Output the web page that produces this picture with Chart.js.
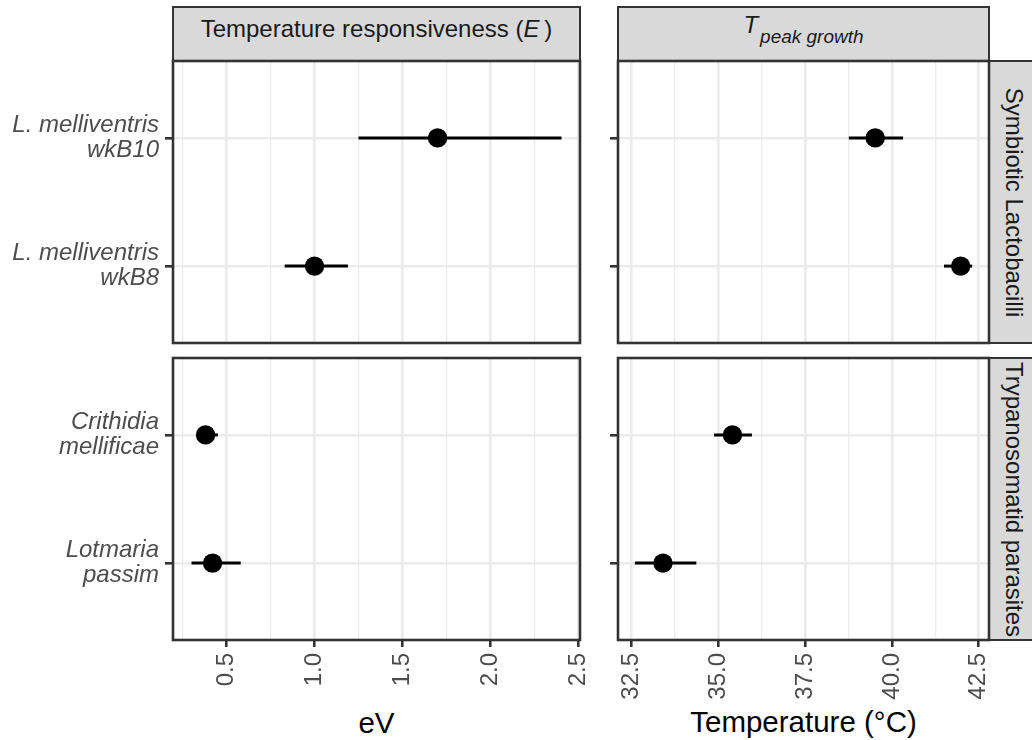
<!DOCTYPE html>
<html>
<head>
<meta charset="utf-8">
<script src="https://cdn.jsdelivr.net/npm/chart.js@4.4.1/dist/chart.umd.min.js"></script>
<style>
body { margin: 0; background: #fff; }
#fig { position: relative; width: 1032px; height: 740px; overflow: hidden; background: #fff;
       font-family: "Liberation Sans", Arial, sans-serif; }
#fig canvas { position: absolute; left: 0; top: 0; }
.strip { position: absolute; background: #D9D9D9; border: 2.6px solid #333; box-sizing: border-box; }
.txt { position: absolute; white-space: nowrap; text-align: center; }
.strip-txt { font-size: 24px; line-height: 27px; color: #1A1A1A; }
.axis-title { font-size: 29.5px; line-height: 33px; color: #000; }
</style>
</head>
<body>
<div id="fig">
  <!-- column strips -->
  <div class="strip" style="left:171.7px;top:5.7px;width:409.6px;height:56.6px"></div>
  <div class="strip" style="left:616.7px;top:5.7px;width:373.6px;height:56.6px"></div>
  <!-- row strips -->
  <div class="strip" style="left:987.7px;top:59.7px;width:56px;height:284.6px"></div>
  <div class="strip" style="left:987.7px;top:356.7px;width:56px;height:284.6px"></div>

  <div class="txt strip-txt" style="left:171.7px;top:15px;width:409.6px">Temperature responsiveness (<i>E</i>&thinsp;)</div>
  <div class="txt strip-txt" style="left:616.7px;top:11px;width:373.6px"><i>T</i><span style="position:relative;top:10px;font-size:19px;margin-left:2px"><i>peak growth</i></span></div>
  <div class="txt strip-txt" id="rowStrip0" style="left:864px;top:188.5px;width:300px;transform:rotate(90deg)"></div>
  <div class="txt strip-txt" id="rowStrip1" style="left:864px;top:485.5px;width:300px;transform:rotate(90deg)"></div>

  <div class="txt axis-title" style="left:173px;top:706px;width:407px">eV</div>
  <div class="txt axis-title" style="left:618px;top:705px;width:371px">Temperature (°C)</div>

  <canvas id="p00" width="1032" height="740"></canvas>
  <canvas id="p01" width="1032" height="740"></canvas>
  <canvas id="p10" width="1032" height="740"></canvas>
  <canvas id="p11" width="1032" height="740"></canvas>
</div>

<script>
// facet rows and strains (top to bottom)
var rowGroups = ['Symbiotic Lactobacilli', 'Trypanosomatid parasites'];
var strainLabels = [['L. melliventris', 'wkB10'], ['L. melliventris', 'wkB8'], ['Crithidia', 'mellificae'], ['Lotmaria', 'passim']];
var strainRow = [0, 0, 1, 1];

// temperature responsiveness E (eV) with interval
var eEstimate = [1.70, 1.00, 0.38, 0.42];
var eLower = [1.25, 0.83, 0.34, 0.30];
var eUpper = [2.405, 1.19, 0.45, 0.58];

// T peak growth (degrees C) with interval
var tpkEstimate = [39.52, 41.98, 35.41, 33.41];
var tpkLower = [38.76, 41.50, 34.88, 32.60];
var tpkUpper = [40.32, 42.31, 35.97, 34.37];

// axis breaks
var eBreaks = [0.5, 1.0, 1.5, 2.0, 2.5];
var tpkBreaks = [32.5, 35.0, 37.5, 40.0, 42.5];

var W = 1032, H = 740;
var panelX = [[173, 580], [618, 989]];
var panelY = [[61, 343], [358, 640]];
var FONT = '"Liberation Sans", Arial, sans-serif';

document.getElementById('rowStrip0').textContent = rowGroups[0];
document.getElementById('rowStrip1').textContent = rowGroups[1];

// ggplot-like 5% expansion of the data range
function expandRange(lo, hi) {
  var mn = Math.min.apply(null, lo), mx = Math.max.apply(null, hi);
  var d = (mx - mn) * 0.05;
  return [mn - d, mx + d];
}

function buildTicks(breaks, lim) {
  var step = breaks[1] - breaks[0];
  var ticks = breaks.map(function (b) { return {value: b, minor: false}; });
  var cand = [breaks[0] - step / 2].concat(breaks.map(function (b) { return b + step / 2; }));
  cand.forEach(function (m) {
    if (m >= lim[0] && m <= lim[1]) ticks.push({value: m, minor: true});
  });
  ticks.sort(function (a, b) { return a.value - b.value; });
  return ticks;
}

var errorBars = {
  id: 'errorBars',
  beforeDatasetsDraw: function (chart) {
    var ctx = chart.ctx, a = chart.chartArea, x = chart.scales.x, y = chart.scales.y;
    var ds = chart.data.datasets[0];
    ctx.save();
    ctx.beginPath();
    ctx.rect(a.left, a.top, a.right - a.left, a.bottom - a.top);
    ctx.clip();
    ctx.strokeStyle = '#000';
    ctx.lineWidth = 3;
    ds.data.forEach(function (p, i) {
      var py = y.getPixelForValue(p.y);
      ctx.beginPath();
      ctx.moveTo(x.getPixelForValue(ds.lower[i]), py);
      ctx.lineTo(x.getPixelForValue(ds.upper[i]), py);
      ctx.stroke();
    });
    ctx.restore();
  }
};

var panelBorder = {
  id: 'panelBorder',
  afterDraw: function (chart) {
    var ctx = chart.ctx, a = chart.chartArea;
    ctx.save();
    ctx.strokeStyle = '#333333';
    ctx.lineWidth = 2.6;
    ctx.strokeRect(a.left, a.top, a.right - a.left, a.bottom - a.top);
    ctx.restore();
  }
};

function makePanel(row, col) {
  var idx = [];
  strainRow.forEach(function (r, i) { if (r === row) idx.push(i); });
  var est = col === 0 ? eEstimate : tpkEstimate;
  var lo = col === 0 ? eLower : tpkLower;
  var hi = col === 0 ? eUpper : tpkUpper;
  var lim = expandRange(lo, hi);
  var xTicks = buildTicks(col === 0 ? eBreaks : tpkBreaks, lim);
  var names = idx.map(function (i) { return strainLabels[i]; });
  var showX = row === 1;

  new Chart(document.getElementById('p' + row + col), {
    type: 'scatter',
    data: {
      datasets: [{
        data: idx.map(function (i, k) { return {x: est[i], y: k + 1}; }),
        lower: idx.map(function (i) { return lo[i]; }),
        upper: idx.map(function (i) { return hi[i]; }),
        backgroundColor: '#000',
        borderWidth: 0,
        pointRadius: 9.7,
        pointHoverRadius: 9.7
      }]
    },
    options: {
      responsive: false,
      animation: false,
      events: [],
      layout: {
        padding: {
          left: col === 0 ? 0 : panelX[1][0] - 20,
          right: W - panelX[col][1],
          top: panelY[row][0],
          bottom: row === 0 ? H - panelY[0][1] : 0
        }
      },
      plugins: {legend: {display: false}, tooltip: {enabled: false}},
      scales: {
        x: {
          type: 'linear',
          min: lim[0],
          max: lim[1],
          afterBuildTicks: function (s) { s.ticks = xTicks; },
          afterFit: function (s) { s.height = showX ? H - panelY[1][1] : 0; },
          border: {display: false},
          grid: {
            color: '#EBEBEB',
            lineWidth: function (c) { return c.tick && c.tick.minor ? 1.3 : 2.6; },
            drawTicks: showX,
            tickLength: 7,
            tickWidth: 2.6,
            tickColor: function (c) { return c.tick && c.tick.minor ? 'rgba(0,0,0,0)' : '#333333'; }
          },
          ticks: {
            display: showX,
            autoSkip: false,
            minRotation: 90,
            maxRotation: 90,
            padding: 6,
            color: '#4D4D4D',
            font: {family: FONT, size: 24},
            callback: function (v, i, t) { return t[i].minor ? '' : v.toFixed(1); }
          }
        },
        y: {
          type: 'linear',
          reverse: true,
          min: 0.4,
          max: 2.6,
          afterBuildTicks: function (s) { s.ticks = [{value: 1}, {value: 2}]; },
          afterFit: function (s) { s.width = col === 0 ? panelX[0][0] : 20; },
          border: {display: false},
          grid: {color: '#EBEBEB', lineWidth: 2.6, tickLength: 8, tickWidth: 2.6, tickColor: '#333333'},
          ticks: {
            autoSkip: false,
            padding: 6,
            color: '#4D4D4D',
            font: {family: FONT, size: 24, style: 'italic', lineHeight: '25px'},
            callback: function (v) { return col === 0 ? names[v - 1] : ''; }
          }
        }
      }
    },
    plugins: [errorBars, panelBorder]
  });
}

makePanel(0, 0);
makePanel(0, 1);
makePanel(1, 0);
makePanel(1, 1);
</script>
</body>
</html>
